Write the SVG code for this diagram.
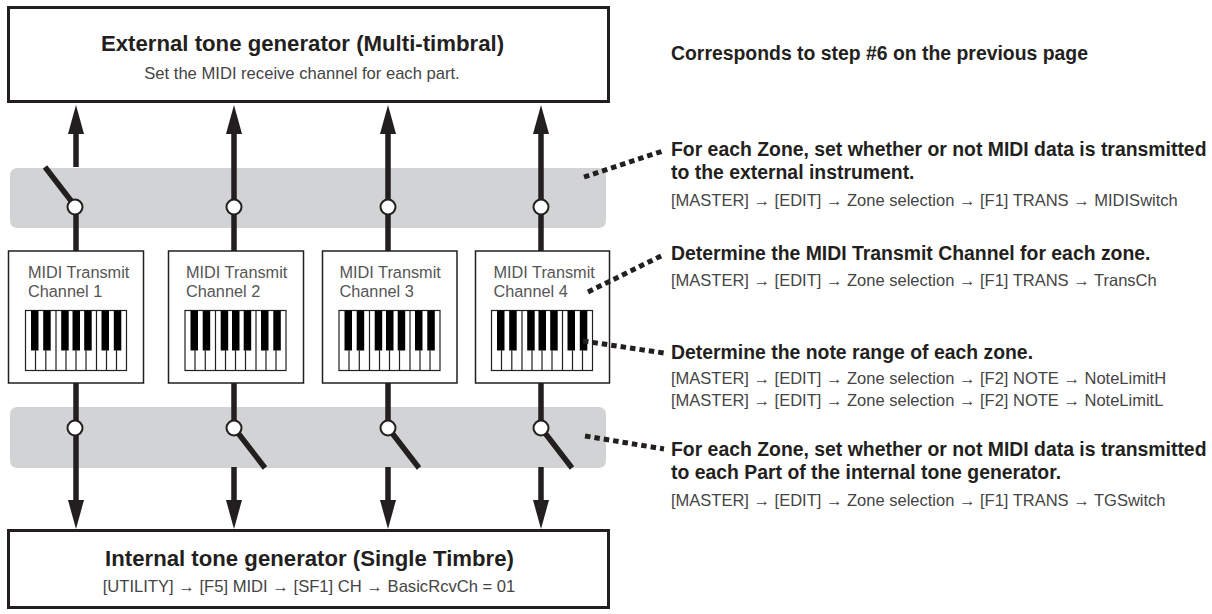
<svg xmlns="http://www.w3.org/2000/svg" width="1212" height="614" viewBox="0 0 1212 614">
<style>
text{font-family:"Liberation Sans",Arial,sans-serif;fill:#444}
.h{font-weight:bold;fill:#231f20;font-size:19.4px}
.t{font-size:22.2px;font-weight:bold;fill:#231f20;text-anchor:middle}
.c{text-anchor:middle;font-size:16.6px}
.s{font-size:16.5px}
.l{font-size:16.3px;fill:#555}
.box{fill:#fff;stroke:#231f20}
.band{fill:#d1d3d4}
.w{stroke:#231f20;stroke-width:5.5;fill:none}
.d{stroke:#231f20;stroke-width:5;stroke-dasharray:5.5 4;fill:none}
.o{fill:#fff;stroke:#231f20;stroke-width:2}
.k{fill:#fff;stroke:#231f20;stroke-width:1.2}
.kl{stroke:#231f20;stroke-width:1.2}
</style>
<defs>
<g id="kb">
<rect class="k" x="0" y="0" width="101" height="60"/>
<path class="kl" d="M10 40V60M20.300 40V60M30.500 0V60M40.500 40V60M50.500 40V60M60.500 40V60M71 0V60M81 40V60M91 40V60"/>
<path fill="#000" d="M5.500 0h7.500v40h-7.500zM17.700 0h7.500v40h-7.500zM35.700 0h7.500v40h-7.500zM47 0h7.500v40h-7.500zM58.700 0h7.500v40h-7.500zM76 0h7.500v40h-7.500zM88.300 0h7.500v40h-7.500z"/>
</g>
<path id="up" fill="#231f20" d="M0 0L8 29H-8Z"/>
<path id="down" fill="#231f20" d="M0 0L8 -29H-8Z"/>
</defs>
<g id="bands"><rect class="band" x="10" y="168" width="596" height="60" rx="7"/><rect class="band" x="10" y="407" width="596" height="61" rx="7"/></g>
<g id="connectors">
<path class="w" d="M76 133V167M76 207V251M45 167L72 202"/>
<path class="w" d="M234 133V251M388 133V251M541 133V251"/>
<path class="w" d="M76 383V502M234 383V428M234 467V502M238 433L265 468"/>
<path class="w" d="M388 383V428M388 467V502M392 433L419 468"/>
<path class="w" d="M541 383V428M541 467V502M545 433L572 468"/>
<use href="#up" x="76" y="105"/><use href="#up" x="234" y="105"/><use href="#up" x="388" y="105"/><use href="#up" x="541" y="105"/>
<use href="#down" x="76" y="529"/><use href="#down" x="234" y="529"/><use href="#down" x="388" y="529"/><use href="#down" x="541" y="529"/>
<circle class="o" cx="75" cy="207" r="7.500"/><circle class="o" cx="234" cy="207" r="7.500"/><circle class="o" cx="388" cy="207" r="7.500"/><circle class="o" cx="541" cy="207" r="7.500"/>
<circle class="o" cx="75" cy="428" r="7.500"/><circle class="o" cx="234" cy="428" r="7.500"/><circle class="o" cx="388" cy="428" r="7.500"/><circle class="o" cx="541" cy="428" r="7.500"/>
</g>
<g id="external"><rect class="box" x="8.500" y="7.500" width="600" height="94" stroke-width="3"/><text class="t" x="302.500" y="51">External tone generator (Multi-timbral)</text><text class="c" x="302" y="79">Set the MIDI receive channel for each part.</text></g>
<g id="internal"><rect class="box" x="8.500" y="530.500" width="600" height="77" stroke-width="3"/><text class="t" x="309.500" y="566">Internal tone generator (Single Timbre)</text><text class="c" x="309" y="592">[UTILITY] → [F5] MIDI → [SF1] CH → BasicRcvCh = 01</text></g>
<g id="ch1"><rect class="box" x="8.500" y="251" width="135" height="132" stroke-width="1.500"/><text class="l" x="28" y="278">MIDI Transmit</text><text class="l" x="28" y="297">Channel 1</text><use href="#kb" x="25.500" y="310.500"/></g>
<g id="ch2"><rect class="box" x="168.500" y="251" width="135" height="132" stroke-width="1.500"/><text class="l" x="186" y="278">MIDI Transmit</text><text class="l" x="186" y="297">Channel 2</text><use href="#kb" x="185" y="310.500"/></g>
<g id="ch3"><rect class="box" x="322.500" y="251" width="134.500" height="132" stroke-width="1.500"/><text class="l" x="339.500" y="278">MIDI Transmit</text><text class="l" x="339.500" y="297">Channel 3</text><use href="#kb" x="339" y="310.500"/></g>
<g id="ch4"><rect class="box" x="475.500" y="251" width="134" height="132" stroke-width="1.500"/><text class="l" x="493.500" y="278">MIDI Transmit</text><text class="l" x="493.500" y="297">Channel 4</text><use href="#kb" x="491.500" y="310.500"/></g>
<g id="callouts"><path class="d" d="M584 177L663 151M588 292L663 255M583 341L664 353M585 436L664 449"/></g>
<g id="notes">
<text class="h" x="671" y="60">Corresponds to step #6 on the previous page</text>
<text class="h" x="671" y="156">For each Zone, set whether or not MIDI data is transmitted</text>
<text class="h" x="671" y="179">to the external instrument.</text>
<text class="s" x="671" y="205.500">[MASTER] → [EDIT] → Zone selection → [F1] TRANS → MIDISwitch</text>
<text class="h" x="671" y="260">Determine the MIDI Transmit Channel for each zone.</text>
<text class="s" x="671" y="285.500">[MASTER] → [EDIT] → Zone selection → [F1] TRANS → TransCh</text>
<text class="h" x="671" y="358.500">Determine the note range of each zone.</text>
<text class="s" x="671" y="384">[MASTER] → [EDIT] → Zone selection → [F2] NOTE → NoteLimitH</text>
<text class="s" x="671" y="406">[MASTER] → [EDIT] → Zone selection → [F2] NOTE → NoteLimitL</text>
<text class="h" x="671" y="456">For each Zone, set whether or not MIDI data is transmitted</text>
<text class="h" x="671" y="479">to each Part of the internal tone generator.</text>
<text class="s" x="671" y="506">[MASTER] → [EDIT] → Zone selection → [F1] TRANS → TGSwitch</text>
</g>
</svg>
